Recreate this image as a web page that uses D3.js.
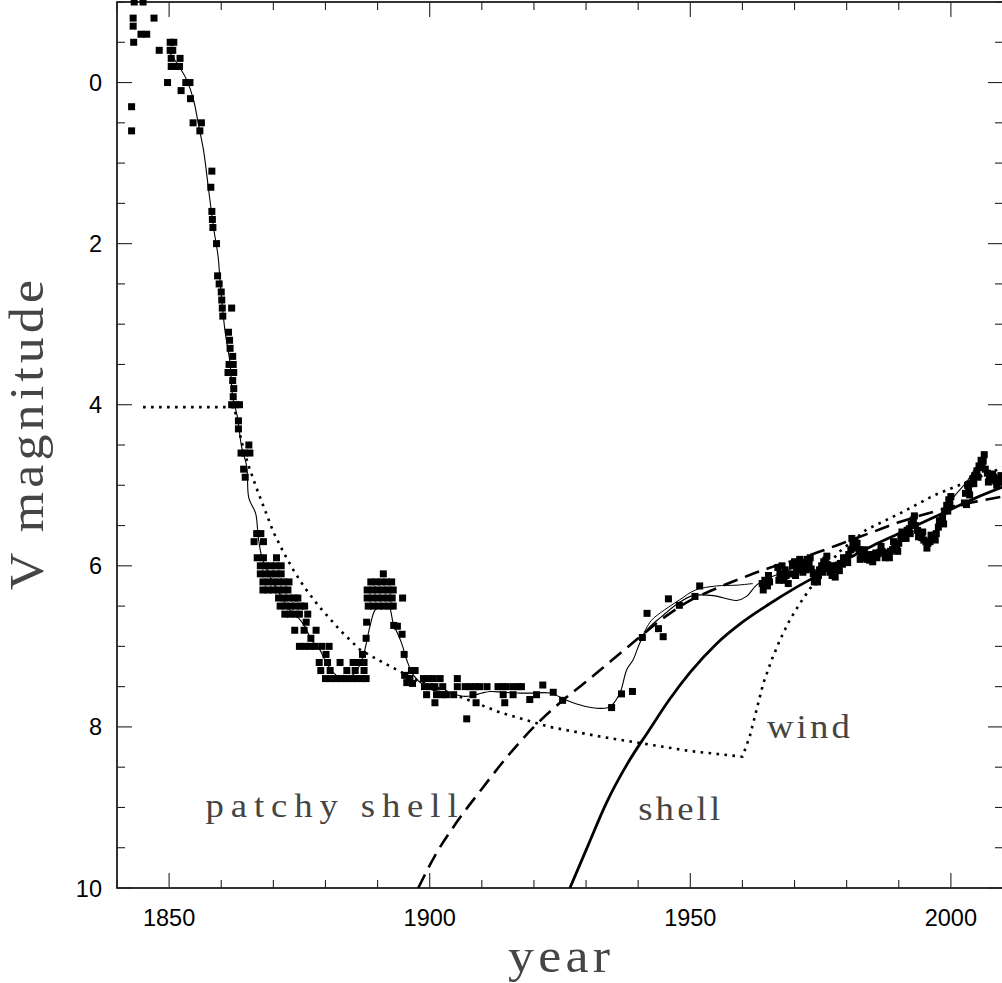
<!DOCTYPE html>
<html>
<head>
<meta charset="utf-8">
<script src="https://cdn.jsdelivr.net/npm/d3@7"></script>
<style>
  html, body { margin: 0; padding: 0; background: #fff; }
  svg { display: block; }
  .tick-label { font-family: "Liberation Sans", Arial, sans-serif; font-size: 23.5px; fill: #000; }
  .title { font-family: "Liberation Serif", "DejaVu Serif", serif; fill: #454545; }
</style>
</head>
<body>
<svg id="chart" width="1002" height="983"></svg>
<script>
// Visual-magnitude observations [year, V]
const observations = [
  [1843.3,-1.0],[1845.0,-1.0],
  [1843.1,-0.8],[1847.1,-0.8],
  [1843.1,-0.7],
  [1844.6,-0.6],[1845.7,-0.6],
  [1843.2,-0.5],[1850.2,-0.5],[1850.9,-0.5],
  [1848.1,-0.4],[1850.2,-0.4],[1850.7,-0.4],
  [1850.4,-0.3],[1852.1,-0.3],
  [1850.4,-0.2],[1851.2,-0.2],[1852.0,-0.2],
  [1849.7,0.0],[1853.2,0.0],[1854.0,0.0],
  [1852.3,0.1],[1854.1,0.2],
  [1842.8,0.3],[1842.8,0.6],
  [1854.6,0.5],[1856.2,0.5],[1855.9,0.6],
  [1858.2,1.1],[1858.0,1.3],
  [1858.2,1.6],[1858.3,1.7],[1858.4,1.8],
  [1859.1,2.0],[1859.3,2.4],[1859.6,2.5],
  [1860.0,2.6],[1860.1,2.7],[1860.2,2.8],[1862.0,2.8],[1860.3,2.9],
  [1861.4,3.1],[1861.6,3.2],[1861.7,3.3],[1862.2,3.4],
  [1861.5,3.5],[1862.3,3.5],[1861.3,3.6],[1862.4,3.6],
  [1862.2,3.7],[1862.4,3.8],[1862.3,3.9],
  [1862.0,4.0],[1862.8,4.0],[1863.5,4.0],
  [1863.3,4.2],[1863.3,4.3],[1865.3,4.5],
  [1863.8,4.6],[1864.5,4.6],[1865.5,4.6],
  [1864.3,4.8],[1864.6,4.9],
  [1866.8,5.6],[1867.6,5.6],
  [1866.3,5.7],[1868.1,5.7],
  [1866.9,5.9],[1868.1,5.9],[1870.6,5.9],
  [1867.5,6.0],[1868.5,6.0],[1869.5,6.0],[1870.5,6.0],[1871.5,6.0],
  [1867.5,6.1],[1868.5,6.1],[1869.5,6.1],[1870.5,6.1],[1871.5,6.1],
  [1868.0,6.2],[1869.0,6.2],[1870.0,6.2],[1871.0,6.2],[1872.0,6.2],[1873.0,6.2],
  [1868.0,6.3],[1869.0,6.3],[1870.0,6.3],[1871.0,6.3],[1872.0,6.3],[1872.8,6.3],
  [1871.0,6.4],[1872.0,6.4],[1873.0,6.4],[1874.0,6.4],[1874.7,6.4],
  [1871.3,6.5],[1872.3,6.5],[1873.3,6.5],[1874.3,6.5],[1875.3,6.5],[1876.0,6.5],
  [1872.2,6.6],[1873.2,6.6],[1874.2,6.6],[1875.0,6.6],[1876.6,6.6],
  [1876.3,6.7],
  [1874.1,6.8],[1875.9,6.8],[1878.2,6.8],
  [1877.2,6.9],[1887.8,6.9],
  [1875.0,7.0],[1876.0,7.0],[1877.0,7.0],[1878.0,7.0],[1879.3,7.0],[1880.7,7.0],
  [1880.1,7.1],[1887.1,7.1],
  [1878.8,7.2],[1880.4,7.2],[1882.8,7.2],[1885.3,7.2],[1886.3,7.2],[1887.4,7.2],
  [1879.1,7.3],[1880.9,7.3],[1884.1,7.3],[1885.7,7.3],[1887.4,7.3],
  [1880.0,7.4],[1881.0,7.4],[1882.0,7.4],[1883.0,7.4],[1884.0,7.4],[1885.0,7.4],[1886.0,7.4],[1887.0,7.4],[1887.8,7.4],
  [1887.9,6.7],
  [1891.1,6.1],
  [1888.7,6.2],[1889.7,6.2],[1890.7,6.2],[1891.7,6.2],[1892.7,6.2],
  [1888.0,6.3],[1889.0,6.3],[1890.0,6.3],[1891.0,6.3],[1892.0,6.3],[1893.0,6.3],
  [1888.0,6.4],[1889.0,6.4],[1890.0,6.4],[1891.0,6.4],[1892.0,6.4],[1892.8,6.4],[1894.8,6.4],
  [1888.2,6.5],[1889.2,6.5],[1890.2,6.5],[1891.2,6.5],[1892.2,6.5],[1893.0,6.5],
  [1893.1,6.74],[1893.8,6.75],[1894.7,6.85],
  [1895.1,7.1],[1896.5,7.3],[1897.2,7.3],[1895.2,7.36],
  [1896.2,7.4],[1898.8,7.4],[1899.8,7.4],[1900.7,7.4],[1902.0,7.4],[1905.3,7.4],
  [1895.6,7.45],[1896.7,7.46],
  [1899.0,7.5],[1900.0,7.5],[1901.0,7.5],[1902.5,7.5],[1905.3,7.5],[1906.8,7.5],[1907.8,7.5],[1908.7,7.5],[1909.6,7.5],
  [1911.0,7.5],[1913.1,7.5],[1914.0,7.5],[1914.7,7.5],[1916.0,7.5],[1917.0,7.5],[1917.6,7.5],
  [1899.4,7.6],[1901.3,7.6],[1902.5,7.6],[1903.2,7.6],[1904.6,7.6],[1908.3,7.6],[1914.1,7.6],[1916.0,7.6],[1919.2,7.66],[1920.5,7.6],
  [1901.0,7.7],[1908.9,7.7],[1914.4,7.7],
  [1907.1,7.9],
  [1921.7,7.48],[1923.7,7.57],[1925.5,7.67],
  [1934.9,7.76],[1936.8,7.59],[1938.9,7.56],
  [1940.8,6.89],[1941.7,6.59],[1943.9,6.78],[1944.8,6.88],
  [1945.8,6.41],[1947.9,6.49],[1950.9,6.38],[1951.8,6.25],
  [1963.8,6.22],[1964.3,6.18],[1964.8,6.25],[1965.2,6.2],
  [1966.8,6.02],[1967.2,6.1],[1967.6,6.0],[1968.0,6.18],[1968.4,6.12],[1968.8,6.22],
  [1969.6,6.0],[1970.0,5.95],[1970.4,6.05],[1970.8,5.97],[1971.2,6.02],[1971.6,6.08],
  [1972.0,5.96],[1972.4,5.92],[1972.8,5.98],[1973.2,6.04],[1973.6,6.1],[1974.0,6.15],
  [1974.4,6.2],[1974.8,6.05],[1975.2,6.0],[1975.6,5.95],[1976.0,5.93],[1976.4,6.0],
  [1976.8,6.08],[1977.2,6.12],[1977.6,6.05],[1978.0,6.0],[1978.4,5.99],[1978.8,5.97],
  [1979.2,5.98],[1979.6,5.94],[1980.0,5.9],[1980.4,5.86],[1980.8,5.8],[1981.2,5.74],
  [1981.6,5.7],[1982.0,5.72],[1982.4,5.8],[1982.8,5.85],[1983.2,5.86],[1983.6,5.9],
  [1984.0,5.92],[1984.4,5.93],[1984.8,5.9],[1985.2,5.86],[1985.6,5.84],[1986.0,5.85],
  [1986.4,5.83],[1986.8,5.82],[1987.2,5.84],[1987.6,5.86],[1988.0,5.84],[1988.4,5.82],
  [1988.8,5.8],[1989.2,5.76],[1989.6,5.75],[1990.0,5.72],[1990.4,5.66],[1990.8,5.64],
  [1991.2,5.6],[1991.6,5.56],[1992.0,5.54],[1992.4,5.48],[1992.8,5.43],[1993.2,5.5],
  [1993.6,5.56],[1994.0,5.6],[1994.4,5.65],[1994.8,5.68],[1995.2,5.7],[1995.6,5.72],
  [1996.0,5.7],[1996.4,5.66],[1996.8,5.62],[1997.2,5.6],[1997.6,5.52],[1998.0,5.45],
  [1998.4,5.4],[1998.8,5.32],[1999.2,5.25],[1999.6,5.18],[2000.0,5.14],
  [2002.6,5.22],[2002.8,5.1],[2003.0,5.24],[2003.2,5.0],[2003.4,5.05],[2003.8,4.98],
  [2004.2,4.92],[2004.6,4.88],[2005.0,4.82],[2005.4,4.76],[2005.8,4.69],[2006.2,4.7],
  [2006.6,4.8],[2007.0,4.85],[2007.4,4.9],[2007.8,4.93],[2008.2,4.9],[2008.6,4.95],
  [2009.0,4.92],[2009.4,4.96],
  [1964.0,6.3],[1965.0,6.12],[1967.0,6.18],[1968.2,6.05],[1969.2,6.1],[1970.2,6.12],
  [1971.0,5.92],[1972.2,6.05],[1973.0,5.9],[1973.8,6.2],[1974.6,6.12],[1975.4,6.08],
  [1976.2,5.88],[1977.0,6.0],[1977.8,6.14],[1978.6,6.06],[1979.4,5.9],[1980.2,5.96],
  [1981.0,5.66],[1981.8,5.78],[1982.6,5.92],[1983.4,5.8],[1984.2,5.86],[1985.0,5.95],
  [1985.8,5.9],[1986.6,5.76],[1987.4,5.9],[1988.2,5.9],[1989.0,5.7],[1989.8,5.82],
  [1990.6,5.58],[1991.4,5.66],[1992.2,5.6],[1993.0,5.38],[1993.8,5.64],[1994.6,5.58],
  [1995.4,5.78],[1996.2,5.62],[1997.0,5.68],[1997.8,5.44],[1998.6,5.48],[1999.4,5.32],
  [1999.8,5.22],[2003.6,5.12],[2004.4,4.98],[2005.2,4.9],[2006.0,4.78],[2006.4,4.62],
  [2007.2,4.96],[2008.0,4.86],[2008.8,5.0],[2009.6,4.88]
];

// Smoothed light curve through the observations
const smoothCurve = [
  [1850.2,-0.36],[1852.1,-0.18],[1853.4,-0.03],[1854.7,0.22],[1855.6,0.51],[1856.6,0.84],
  [1857.5,1.29],[1858.5,1.79],[1859.4,2.16],[1859.8,2.49],[1860.7,3.07],[1861.7,3.49],
  [1862.2,3.9],[1863.1,4.15],[1863.9,4.52],[1864.9,4.77],[1865.3,5.16],[1866.6,5.35],
  [1867.1,5.64],[1867.8,5.89],[1869.7,6.18],[1871.3,6.36],[1873.2,6.55],[1874.5,6.62],
  [1876.1,6.76],[1877.3,6.92],[1878.9,7.04],[1880.2,7.21],[1882.1,7.36],[1883.5,7.39],
  [1884.7,7.38],[1886.0,7.3],[1887.2,7.13],[1888.5,6.76],[1889.5,6.55],[1890.5,6.5],
  [1891.5,6.48],[1892.3,6.52],[1893.0,6.71],[1894.6,6.96],[1895.6,7.17],[1896.9,7.36],
  [1898.8,7.48],[1900.5,7.54],[1903.9,7.58],[1906.4,7.62],[1908.3,7.61],[1910.0,7.58],
  [1911.6,7.56],[1914.1,7.57],[1917.3,7.58],[1919.9,7.58],[1923.1,7.58],[1926.3,7.67],
  [1929.5,7.74],[1932.7,7.77],[1934.6,7.75],[1936.5,7.58],[1937.8,7.29],[1939.0,7.17],
  [1940.3,6.96],[1941.9,6.78],[1944.5,6.63],[1948.0,6.45],[1950.5,6.37],[1954.4,6.37],
  [1958.9,6.43],[1960.8,6.38],[1962.7,6.24],[1965.0,6.15],[1968.0,6.08],[1971.0,6.0],
  [1974.0,6.05],[1977.0,6.05],[1980.0,5.9],[1982.0,5.75],[1984.0,5.9],[1987.0,5.84],
  [1990.0,5.72],[1992.8,5.48],[1995.0,5.68],[1997.0,5.6],[1999.2,5.3],[2000.5,5.15],
  [2003.0,4.96],[2005.8,4.72],[2007.5,4.9],[2009.5,4.95]
];

// Second running mean over the 1940s-1960s
const smoothCurveAlt = [
  [1941.0,6.85],[1942.5,6.68],[1945.0,6.55],[1948.0,6.42],[1951.0,6.3],
  [1955.0,6.25],[1959.0,6.24],[1962.0,6.22]
];

// Model: patchy shell followed by wind (dotted)
const patchyWindModel = [
  [1845.0,4.03],[1862.5,4.03],[1863.9,4.46],[1865.2,4.75],[1866.8,5.04],[1868.4,5.31],
  [1870.0,5.58],[1872.0,5.84],[1874.0,6.07],[1876.0,6.27],[1878.7,6.5],[1882.8,6.8],
  [1886.6,7.04],[1891.0,7.2],[1894.0,7.3],[1897.5,7.42],[1904.0,7.58],[1913.5,7.82],
  [1923.0,8.0],[1932.7,8.12],[1942.2,8.22],[1950.0,8.3],[1960.0,8.37],[1961.4,8.12],
  [1962.7,7.79],[1964.0,7.46],[1965.6,7.17],[1967.2,6.92],[1969.1,6.67],[1971.0,6.47],
  [1973.0,6.28],[1976.0,6.02],[1978.7,5.82],[1983.8,5.55],[1990.2,5.35],[1996.6,5.13],
  [2003.0,4.96],[2010.0,4.78]
];

// Model: dashed curve
const dashedModel = [
  [1897.8,10.0],[1901,9.6],[1905,9.2],[1910,8.77],[1915,8.36],[1920,8.0],[1925,7.7],
  [1930,7.44],[1935,7.17],[1940,6.9],[1945,6.64],[1950,6.43],[1955,6.28],[1960,6.15],
  [1965,6.03],[1970,5.93],[1975,5.82],[1980,5.7],[1985,5.58],[1990,5.46],[1995,5.36],
  [2000,5.27],[2005,5.2],[2010,5.14]
];

// Model: shell (thick solid)
const shellModel = [
  [1926.9,10.0],[1930,9.53],[1934,8.93],[1938,8.45],[1942,8.05],[1946,7.66],[1950,7.32],
  [1955,6.97],[1960,6.7],[1965,6.48],[1970,6.28],[1975,6.1],[1980,5.92],[1985,5.75],
  [1990,5.6],[1995,5.45],[2000,5.3],[2005,5.15],[2010,5.02]
];

const xMajorTicks = [1850, 1900, 1950, 2000];
const yMajorTicks = [0, 2, 4, 6, 8, 10];

const annotations = [
  { text: "patchy shell", year: 1857.0, mag: 9.12, width: 252 },
  { text: "shell", year: 1940.0, mag: 9.16, width: 82 },
  { text: "wind", year: 1964.7, mag: 8.14, width: 83 }
];

(function draw() {
  const svg = d3.select("#chart");
  const pLeft = 117, pRight = 1003, pTop = 2, pBottom = 888;
  const stretch = 1.08; // widen the serif glyphs slightly

  const x = d3.scaleLinear().domain([1840, 2010]).range([pLeft, pRight]);
  const y = d3.scaleLinear().domain([-1, 10]).range([pTop, pBottom]);

  const frame = svg.append("g");

  frame.append("rect")
    .attr("x", pLeft).attr("y", pTop)
    .attr("width", pRight - pLeft).attr("height", pBottom - pTop)
    .attr("fill", "none").attr("stroke", "#000").attr("stroke-width", 1.6);

  // ticks on all four sides, pointing inward
  const xMinor = d3.range(1840, 2011, 10);
  const yMinor = d3.range(-1, 10.01, 0.5);
  const tickG = frame.append("g").attr("stroke", "#222").attr("stroke-width", 1.1);
  xMinor.forEach(v => {
    const len = xMajorTicks.includes(v) ? 15 : 8;
    tickG.append("line").attr("x1", x(v)).attr("x2", x(v)).attr("y1", pBottom).attr("y2", pBottom - len);
    tickG.append("line").attr("x1", x(v)).attr("x2", x(v)).attr("y1", pTop).attr("y2", pTop + len);
  });
  yMinor.forEach(v => {
    const len = yMajorTicks.includes(v) ? 15 : 8;
    tickG.append("line").attr("x1", pLeft).attr("x2", pLeft + len).attr("y1", y(v)).attr("y2", y(v));
    tickG.append("line").attr("x1", pRight).attr("x2", pRight - len).attr("y1", y(v)).attr("y2", y(v));
  });

  // tick labels
  xMajorTicks.forEach(v => {
    svg.append("text").attr("class", "tick-label")
      .attr("x", x(v)).attr("y", 926).attr("text-anchor", "middle").text(v);
  });
  yMajorTicks.forEach(v => {
    svg.append("text").attr("class", "tick-label")
      .attr("x", 102).attr("y", y(v) + 8.5).attr("text-anchor", "end").text(v);
  });

  // serif label helper: slightly widened glyphs, total width fixed
  function serifLabel(transform, txt, size, width) {
    svg.append("text").attr("class", "title")
      .attr("transform", transform + ` scale(${stretch},1)`)
      .attr("font-size", size)
      .attr("textLength", width / stretch).attr("lengthAdjust", "spacing")
      .text(txt);
  }

  // axis titles
  serifLabel("translate(508,972)", "year", 48, 102);
  serifLabel("translate(43,590) rotate(-90)", "V magnitude", 48, 310);

  svg.append("clipPath").attr("id", "plotclip")
    .append("rect").attr("x", pLeft).attr("y", 0).attr("width", pRight - pLeft).attr("height", pBottom);

  const body = svg.append("g").attr("clip-path", "url(#plotclip)");

  const lineGen = d3.line().x(d => x(d[0])).y(d => y(d[1]));

  // model curves
  body.append("path").datum(patchyWindModel)
    .attr("d", lineGen.curve(d3.curveLinear))
    .attr("fill", "none").attr("stroke", "#000").attr("stroke-width", 2.6)
    .attr("stroke-dasharray", "2.6,5.4");
  body.append("path").datum(dashedModel)
    .attr("d", lineGen.curve(d3.curveMonotoneX))
    .attr("fill", "none").attr("stroke", "#000").attr("stroke-width", 2.6)
    .attr("stroke-dasharray", "15,8");
  body.append("path").datum(shellModel)
    .attr("d", lineGen.curve(d3.curveMonotoneX))
    .attr("fill", "none").attr("stroke", "#000").attr("stroke-width", 2.8);

  // smoothed curves
  body.append("path").datum(smoothCurve)
    .attr("d", lineGen.curve(d3.curveCatmullRom))
    .attr("fill", "none").attr("stroke", "#000").attr("stroke-width", 1.1);
  body.append("path").datum(smoothCurveAlt)
    .attr("d", lineGen.curve(d3.curveCatmullRom))
    .attr("fill", "none").attr("stroke", "#000").attr("stroke-width", 1.0);

  // observations
  const sq = 7;
  body.selectAll("rect.obs").data(observations).join("rect")
    .attr("class", "obs")
    .attr("x", d => x(d[0]) - sq / 2).attr("y", d => y(d[1]) - sq / 2)
    .attr("width", sq).attr("height", sq).attr("fill", "#000");

  // annotations
  annotations.forEach(a => {
    serifLabel(`translate(${x(a.year)},${y(a.mag)})`, a.text, 34, a.width);
  });
})();
</script>
</body>
</html>
